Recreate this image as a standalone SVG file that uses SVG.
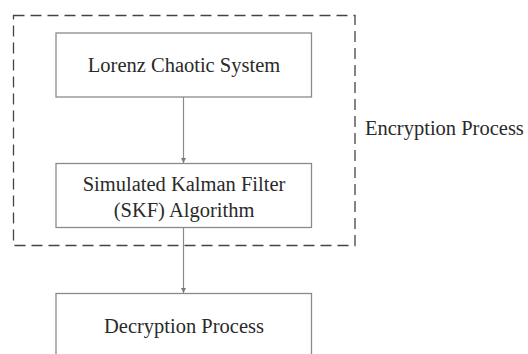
<svg xmlns="http://www.w3.org/2000/svg" width="528" height="354" viewBox="0 0 528 354">
  <style>
    .box { fill: #ffffff; stroke: #8a8a8a; stroke-width: 1.3; }
    .group { fill: none; stroke: #444444; stroke-width: 1.3; stroke-dasharray: 11 6; }
    .label { fill: #2a2a2a; text-anchor: middle; }
    .side { text-anchor: start; }
    .link { stroke: #8a8a8a; stroke-width: 1.2; fill: none; marker-end: url(#arrow); }
  </style>
  <defs>
    <marker id="arrow" markerWidth="6" markerHeight="6" refX="5" refY="3" orient="auto" markerUnits="userSpaceOnUse">
      <path d="M0,0.5 L5,3 L0,5.5 Z" fill="#7a7a7a"/>
    </marker>
  </defs>

  <rect fill="#ffffff" x="0" y="0" width="528" height="354"/>

  <g font-family="Liberation Serif" font-size="20.5">
    <!-- encryption stage boundary -->
    <g id="encryption-process">
      <rect class="group" x="13.5" y="15.5" width="341.5" height="230"/>
      <text class="label side" x="365" y="135">Encryption Process</text>
    </g>

    <g id="lorenz">
      <rect class="box" x="56" y="33" width="255.5" height="64"/>
      <text class="label" x="184" y="72">Lorenz Chaotic System</text>
    </g>

    <g id="skf">
      <rect class="box" x="56" y="163.5" width="255.5" height="64"/>
      <text class="label" x="184" y="191">Simulated Kalman Filter</text>
      <text class="label" x="184" y="217">(SKF) Algorithm</text>
    </g>

    <g id="decryption">
      <rect class="box" x="56" y="293.5" width="255.5" height="80"/>
      <text class="label" x="184" y="333">Decryption Process</text>
    </g>
  </g>

  <g id="connectors">
    <line class="link" x1="183.5" y1="97" x2="183.5" y2="163"/>
    <line class="link" x1="183.5" y1="227.5" x2="183.5" y2="293"/>
  </g>
</svg>
